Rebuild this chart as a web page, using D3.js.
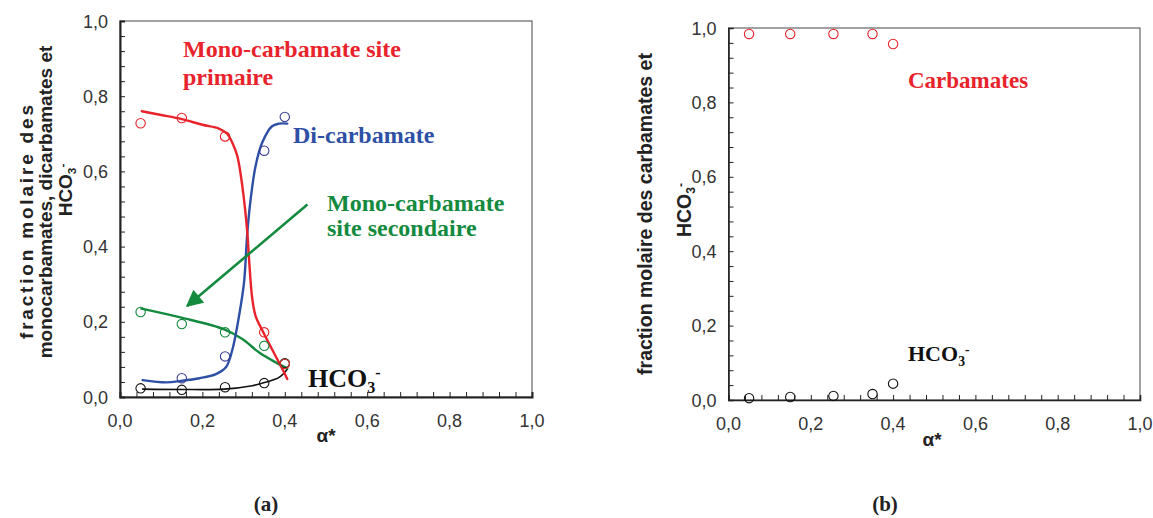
<!DOCTYPE html>
<html><head><meta charset="utf-8">
<script src="https://cdn.jsdelivr.net/npm/d3@7"></script>
<style>body{margin:0;background:#fff}svg{display:block}</style>
</head><body>
<svg id="chart" width="1153" height="518"></svg>
<script>
// ---------- data ----------
const alpha = [0.05, 0.15, 0.255, 0.35, 0.40];
const monoPrimaire = [0.728, 0.742, 0.693, 0.172, 0.088];
const diCarbamateAlpha = [0.15, 0.255, 0.35, 0.40];
const diCarbamate = [0.050, 0.108, 0.655, 0.745];
const monoSecondaire = [0.226, 0.194, 0.172, 0.136, 0.088];
const hco3A = [0.023, 0.019, 0.026, 0.037, 0.090];
const carbamatesB = [0.984, 0.984, 0.984, 0.984, 0.957];
const hco3B = [0.005, 0.008, 0.011, 0.016, 0.044];

// fitted curves: [alpha, fraction]
const fitPrimaireX = [0.053,0.10,0.15,0.20,0.24,0.26,0.275,0.285,0.297,0.309,0.313,0.321,0.329,0.345,0.369,0.39,0.406];
const fitPrimaireY = [0.760,0.750,0.739,0.724,0.714,0.700,0.670,0.640,0.560,0.437,0.370,0.262,0.216,0.178,0.127,0.083,0.048];
const fitDiX = [0.055,0.112,0.149,0.193,0.233,0.257,0.273,0.289,0.301,0.309,0.317,0.329,0.345,0.369,0.386,0.406];
const fitDiY = [0.045,0.039,0.043,0.050,0.061,0.079,0.127,0.216,0.304,0.437,0.525,0.614,0.676,0.720,0.727,0.727];
const fitSecX = [0.052,0.149,0.253,0.297,0.337,0.378,0.406];
const fitSecY = [0.235,0.211,0.180,0.154,0.119,0.092,0.076];
const fitHcoX = [0.055,0.149,0.253,0.321,0.353,0.386,0.406];
const fitHcoY = [0.021,0.020,0.021,0.030,0.039,0.052,0.074];

const tickLabels = [0, 0.2, 0.4, 0.6, 0.8, 1.0];
const minorTicks = d3.range(0, 1.0001, 0.04);

// ---------- setup ----------
const svg = d3.select("#chart");
const loc = d3.formatLocale({decimal: ",", thousands: ".", grouping: [3], currency: ["", ""]});
const fmt = loc.format(".1f");
const RED = "#e8232b", BLUE = "#2d4fa4", GREEN = "#138a3e", BLACK = "#111";
const SANS = "Arial, 'Liberation Sans', sans-serif";
const SERIF = "'Times New Roman', 'Liberation Serif', serif";

function panel(xr, yr, frameW) {
  const x = d3.scaleLinear().domain([0, 1]).range(xr);
  const y = d3.scaleLinear().domain([0, 1]).range(yr);
  const g = svg.append("g");
  g.append("rect").attr("x", xr[0]).attr("y", yr[1]).attr("width", xr[1] - xr[0]).attr("height", yr[0] - yr[1])
    .attr("fill", "none").attr("stroke", "#444").attr("stroke-width", 1);
  const ax = g.append("g").attr("transform", `translate(0,${yr[0]})`)
    .call(d3.axisBottom(x).tickValues(minorTicks).tickSize(-5).tickFormat(""));
  const ay = g.append("g").attr("transform", `translate(${xr[0]},0)`)
    .call(d3.axisLeft(y).tickValues(minorTicks).tickSize(-5).tickFormat(""));
  [ax, ay].forEach(a => { a.selectAll("path").attr("stroke", "#222").attr("stroke-width", frameW);
    a.selectAll("line").attr("stroke", "#222").attr("stroke-width", 1); });
  g.selectAll(".xl").data(tickLabels).join("text").attr("x", d => x(d)).attr("y", yr[0] + 30)
    .attr("text-anchor", "middle").attr("font-family", SANS).attr("font-size", 18).attr("fill", "#333").text(fmt);
  g.selectAll(".yl").data(tickLabels).join("text").attr("x", xr[0] - 12).attr("y", d => y(d) + 6.5)
    .attr("text-anchor", "end").attr("font-family", SANS).attr("font-size", 18).attr("fill", "#333").text(fmt);
  return {x, y, g};
}

function circles(p, xs, ys, color) {
  p.g.append("g").selectAll("circle").data(xs.map((d, i) => [d, ys[i]])).join("circle")
    .attr("cx", d => p.x(d[0])).attr("cy", d => p.y(d[1])).attr("r", 4.7)
    .attr("fill", "none").attr("stroke", color).attr("stroke-width", 1.1);
}
function curve(p, xs, ys, color, w) {
  const line = d3.line().x(d => p.x(d[0])).y(d => p.y(d[1])).curve(d3.curveCatmullRom.alpha(0.5));
  p.g.append("path").attr("d", line(xs.map((d, i) => [d, ys[i]])))
    .attr("fill", "none").attr("stroke", color).attr("stroke-width", w).attr("stroke-linecap", "round");
}
function label(x, y, lines, color, size, lh) {
  const t = svg.append("text").attr("x", x).attr("y", y).attr("font-family", SERIF).attr("font-weight", "bold")
    .attr("font-size", size).attr("fill", color);
  lines.forEach((l, i) => t.append("tspan").attr("x", x).attr("dy", i ? lh : 0).text(l));
}
function hco3(el, size) {
  el.append("tspan").text("HCO");
  el.append("tspan").attr("font-size", size * 0.62).attr("dy", size * 0.22).text("3");
  el.append("tspan").attr("font-size", size * 0.62).attr("dy", -size * 0.55).text("-");
}

// ---------- panel (a) ----------
const A = panel([120, 532], [397, 21], 2);
curve(A, fitHcoX, fitHcoY, BLACK, 1.6);
curve(A, fitSecX, fitSecY, GREEN, 2.4);
curve(A, fitDiX, fitDiY, BLUE, 2.4);
curve(A, fitPrimaireX, fitPrimaireY, RED, 2.4);
circles(A, alpha, hco3A, BLACK);
circles(A, alpha, monoSecondaire, GREEN);
circles(A, diCarbamateAlpha, diCarbamate, "#3b3f94");
circles(A, alpha, monoPrimaire, RED);

svg.append("defs").append("marker").attr("id", "arr").attr("viewBox", "0 0 10 10").attr("refX", 9).attr("refY", 5)
  .attr("markerWidth", 7).attr("markerHeight", 6.5).attr("markerUnits", "strokeWidth").attr("orient", "auto")
  .append("path").attr("d", "M0,0 L10,5 L0,10 Z").attr("fill", GREEN);
svg.append("line").attr("x1", A.x(0.455)).attr("y1", A.y(0.512)).attr("x2", A.x(0.163)).attr("y2", A.y(0.242))
  .attr("stroke", GREEN).attr("stroke-width", 2.6).attr("marker-end", "url(#arr)");

label(183, 57, ["Mono-carbamate site", "primaire"], RED, 24, 28);
label(293, 143, ["Di-carbamate"], BLUE, 24, 0);
label(327, 211, ["Mono-carbamate", "site secondaire"], GREEN, 24, 25);
hco3(svg.append("text").attr("x", 308).attr("y", 387).attr("font-family", SERIF).attr("font-weight", "bold")
  .attr("font-size", 26).attr("fill", BLACK), 26);

function ylab(x, cy, content, size, len) {
  const t = svg.append("text").attr("transform", `translate(${x},${cy}) rotate(-90)`).attr("text-anchor", "middle")
    .attr("font-family", SANS).attr("font-weight", "bold").attr("font-size", size).attr("fill", "#222");
  if (content === "HCO3") hco3(t, size); else t.text(content);
  if (len) t.attr("textLength", len).attr("lengthAdjust", "spacing");
}
ylab(33, 222, "fraction molaire des", 19, 234);
ylab(52, 202, "monocarbamates, dicarbamates et", 19);
ylab(72, 190, "HCO3", 19);
svg.append("text").attr("x", 326).attr("y", 442).attr("text-anchor", "middle").attr("font-family", SANS)
  .attr("font-weight", "bold").attr("font-size", 19).attr("fill", "#222").text("α*");
svg.append("text").attr("x", 266).attr("y", 511).attr("text-anchor", "middle").attr("font-family", SERIF)
  .attr("font-weight", "bold").attr("font-size", 21).attr("fill", "#222").text("(a)");

// ---------- panel (b) ----------
const B = panel([728.5, 1140], [400, 28], 1.6);
circles(B, alpha, carbamatesB, RED);
circles(B, alpha, hco3B, BLACK);
label(908, 88, ["Carbamates"], RED, 23, 0);
hco3(svg.append("text").attr("x", 908).attr("y", 361).attr("font-family", SERIF).attr("font-weight", "bold")
  .attr("font-size", 22).attr("fill", BLACK), 22);
ylab(652, 214, "fraction molaire des carbamates et", 19.5);
ylab(691, 210, "HCO3", 19.5);
svg.append("text").attr("x", 932).attr("y", 446).attr("text-anchor", "middle").attr("font-family", SANS)
  .attr("font-weight", "bold").attr("font-size", 19).attr("fill", "#222").text("α*");
svg.append("text").attr("x", 885).attr("y", 511).attr("text-anchor", "middle").attr("font-family", SERIF)
  .attr("font-weight", "bold").attr("font-size", 21).attr("fill", "#222").text("(b)");
</script>
</body></html>
